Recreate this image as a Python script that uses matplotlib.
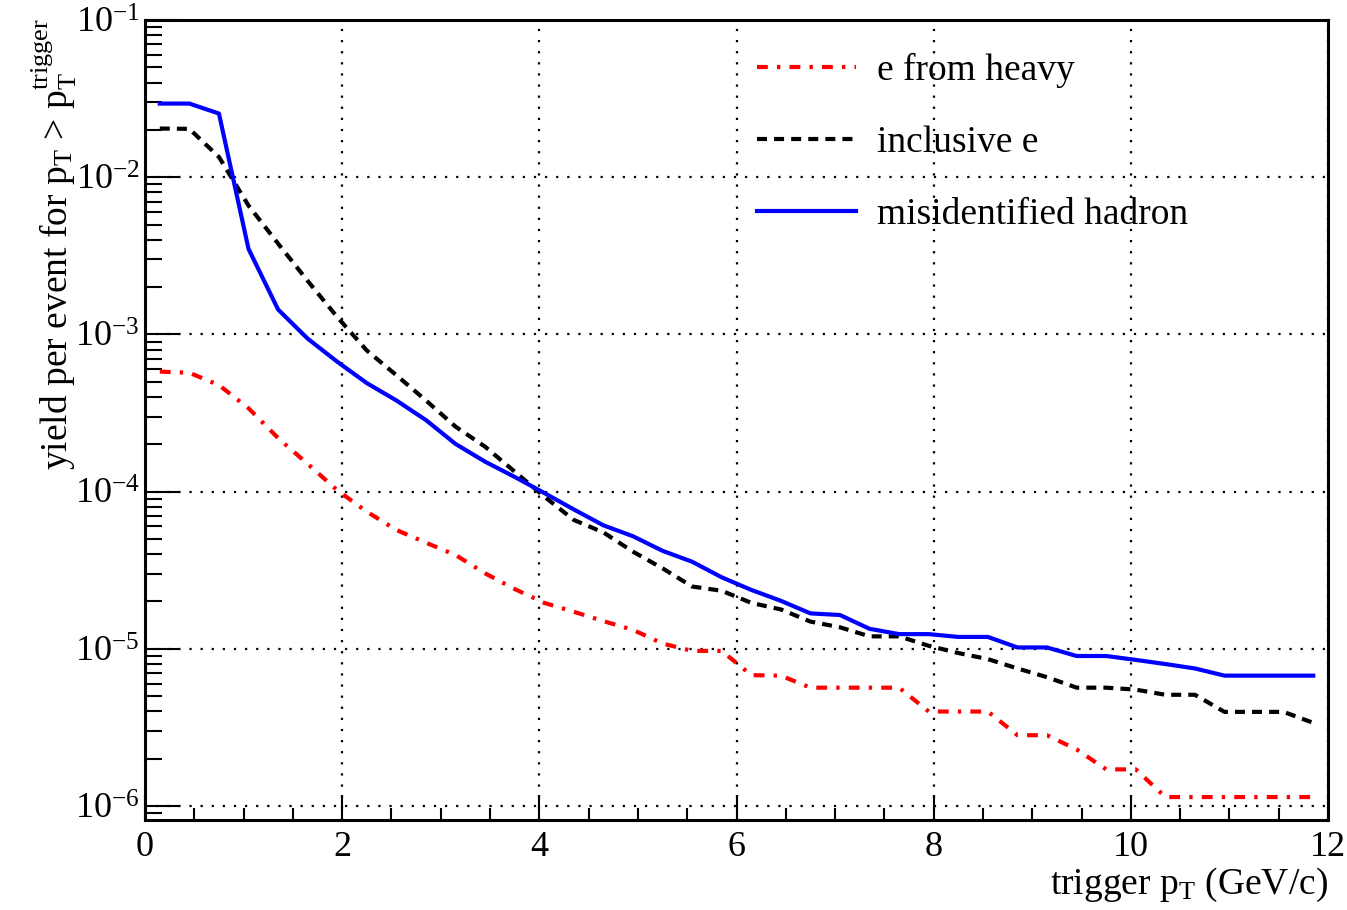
import matplotlib
matplotlib.use("Agg")
import matplotlib.pyplot as plt
import numpy as np

plt.rcParams['font.family'] = ['Liberation Serif', 'DejaVu Serif']
plt.rcParams['mathtext.fontset'] = 'custom'
plt.rcParams['mathtext.rm'] = 'Liberation Serif'
plt.rcParams['mathtext.it'] = 'Liberation Serif:italic'
plt.rcParams['mathtext.bf'] = 'Liberation Serif:bold'

# trigger pT bin centres (GeV/c)
pt = [0.15, 0.45, 0.75, 1.05, 1.35, 1.65, 1.95, 2.25, 2.55, 2.85,
      3.15, 3.45, 3.75, 4.05, 4.35, 4.65, 4.95, 5.25, 5.55, 5.85,
      6.15, 6.45, 6.75, 7.05, 7.35, 7.65, 7.95, 8.25, 8.55, 8.85,
      9.15, 9.45, 9.75, 10.05, 10.35, 10.65, 10.95, 11.25, 11.55, 11.85]

e_heavy = [5.8e-4, 5.7e-4, 4.76e-4, 3.39e-4, 2.19e-4, 1.5e-4, 1.02e-4, 7.45e-5, 5.7e-5, 4.73e-5,
           3.95e-5, 3.02e-5, 2.4e-5, 1.96e-5, 1.72e-5, 1.5e-5, 1.32e-5, 1.08e-5, 9.7e-6, 9.7e-6,
           6.8e-6, 6.75e-6, 5.66e-6, 5.66e-6, 5.66e-6, 5.66e-6, 3.99e-6, 3.99e-6, 3.99e-6, 2.82e-6,
           2.82e-6, 2.29e-6, 1.71e-6, 1.71e-6, 1.14e-6, 1.14e-6, 1.14e-6, 1.14e-6, 1.14e-6, 1.14e-6]

inclusive_e = [2.04e-2, 2.03e-2, 1.345e-2, 6.6e-3, 3.78e-3, 2.19e-3, 1.29e-3, 7.9e-4, 5.5e-4, 3.8e-4,
               2.59e-4, 1.93e-4, 1.34e-4, 9.3e-5, 6.6e-5, 5.5e-5, 4.15e-5, 3.25e-5, 2.49e-5, 2.34e-5,
               1.96e-5, 1.78e-5, 1.49e-5, 1.37e-5, 1.2e-5, 1.2e-5, 1.045e-5, 9.4e-6, 8.6e-6, 7.5e-6,
               6.6e-6, 5.66e-6, 5.66e-6, 5.5e-6, 5.1e-6, 5.1e-6, 3.97e-6, 3.97e-6, 3.97e-6, 3.38e-6]

misid_hadron = [2.94e-2, 2.94e-2, 2.54e-2, 3.5e-3, 1.44e-3, 9.4e-4, 6.7e-4, 4.9e-4, 3.8e-4, 2.85e-4,
                2.01e-4, 1.55e-4, 1.24e-4, 9.8e-5, 7.7e-5, 6.1e-5, 5.2e-5, 4.2e-5, 3.58e-5, 2.85e-5,
                2.37e-5, 2.02e-5, 1.68e-5, 1.64e-5, 1.34e-5, 1.24e-5, 1.24e-5, 1.19e-5, 1.19e-5, 1.02e-5,
                1.02e-5, 9.0e-6, 9.0e-6, 8.5e-6, 8.0e-6, 7.5e-6, 6.75e-6, 6.75e-6, 6.75e-6, 6.75e-6]

labels = ['e from heavy', 'inclusive e', 'misidentified hadron']

W, H = 1347, 910
fig = plt.figure(figsize=(W / 100, H / 100), dpi=100)
ax = fig.add_axes([145 / W, 1 - 820 / H, (1328 - 145) / W, (820 - 20) / H])

lw = 3.0
ax.plot(pt, e_heavy, color='#ff0000', lw=lw, dashes=(2.6, 2.2, 0.8, 2.2), label=labels[0])
ax.plot(pt, inclusive_e, color='black', lw=lw, dashes=(2.4, 1.7), label=labels[1])
ax.plot(pt, misid_hadron, color='#0000ff', lw=lw, label=labels[2])

ax.set_yscale('log')
ax.set_xlim(0, 12)
ax.set_ylim(10 ** -6.089, 1e-1)

ax.set_xticks(np.arange(0, 13, 2))
ax.set_xticks(np.arange(0, 12.01, 0.5), minor=True)
ax.set_xticklabels([str(v) for v in range(0, 13, 2)])
decades = [1e-6, 1e-5, 1e-4, 1e-3, 1e-2, 1e-1]
ax.set_yticks(decades)
ax.set_yticklabels([r'$\mathregular{10^{-%d}}$' % k for k in [6, 5, 4, 3, 2, 1]])
ax.yaxis.set_minor_locator(matplotlib.ticker.LogLocator(base=10, subs=np.arange(2, 10), numticks=20))
ax.yaxis.set_minor_formatter(matplotlib.ticker.NullFormatter())

ax.tick_params(axis='both', which='both', direction='in', top=False, right=False, colors='black')
ax.tick_params(axis='y', which='major', length=25, width=1.5, labelsize=26, pad=4)
ax.tick_params(axis='y', which='minor', length=12, width=1.5)
ax.tick_params(axis='x', which='major', length=18, width=1.5, labelsize=26, pad=8)
ax.tick_params(axis='x', which='minor', length=8.5, width=1.5)

ax.grid(True, which='major', color='black', linestyle=(0, (1, 4)), linewidth=1.6)
for s in ax.spines.values():
    s.set_linewidth(2.2)

leg = ax.legend(loc='upper left', bbox_to_anchor=((742 - 145) / (1328 - 145), 1 - 18 / 800),
                frameon=False, fontsize=27, handlelength=2.64, handletextpad=0.56,
                labelspacing=1.0, borderaxespad=0)

fig.text(1328 / W, 1 - 866 / H, r'trigger p$_\mathregular{T}$ (GeV/c)', ha='right', va='top', fontsize=27)
fig.text(54 / W, 1 - 18 / H, r'yield per event for p$_\mathregular{T}$ > p$_\mathregular{T}^\mathregular{trigger}$',
         rotation=90, ha='center', va='top', fontsize=27)

fig.savefig('out.png', dpi=100)
